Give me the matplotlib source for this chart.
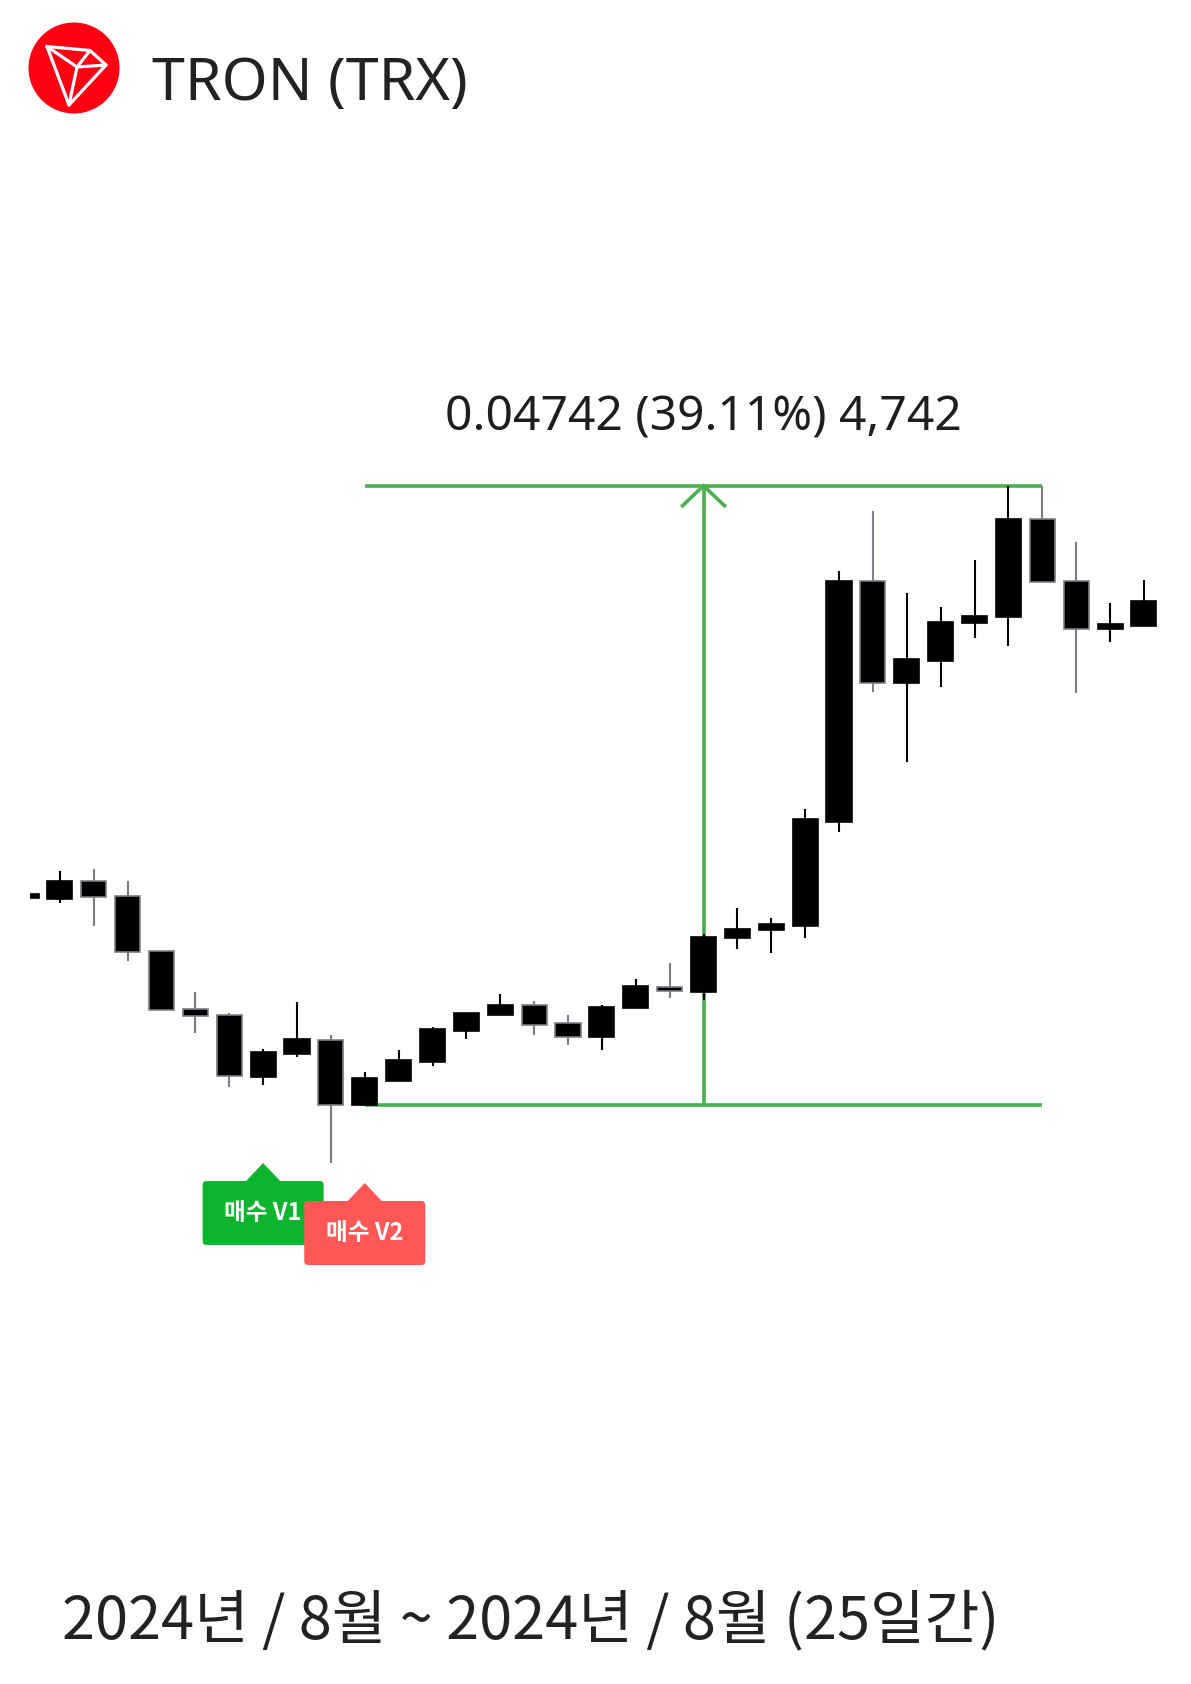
import matplotlib
matplotlib.use("Agg")
import matplotlib.pyplot as plt
import matplotlib.transforms as mtransforms
from matplotlib.patches import Circle, FancyBboxPatch, Polygon
import numpy as np

# ---- daily TRX/USDT candles ----
opens = [0.13710, 0.13702, 0.13840, 0.13725, 0.13304, 0.12860, 0.12814, 0.12339, 0.12515, 0.12623,
         0.12125, 0.12309, 0.12454, 0.12692, 0.12814, 0.12891, 0.12753, 0.12646, 0.12868, 0.13029,
         0.12990, 0.13404, 0.13465, 0.13496, 0.14292, 0.16137, 0.15356, 0.15525, 0.15816, 0.15862,
         0.16612, 0.16137, 0.15770, 0.15793]
highs = [0.13741, 0.13917, 0.13932, 0.13840, 0.13304, 0.12990, 0.12829, 0.12554, 0.12914, 0.12661,
         0.12378, 0.12546, 0.12722, 0.12829, 0.12975, 0.12921, 0.12814, 0.12891, 0.13090, 0.13212,
         0.13434, 0.13633, 0.13557, 0.14391, 0.16214, 0.16673, 0.16045, 0.15938, 0.16298, 0.16867,
         0.16867, 0.16436, 0.15969, 0.16145]
lows = [0.13710, 0.13672, 0.13496, 0.13228, 0.12852, 0.12676, 0.12263, 0.12278, 0.12492, 0.11681,
        0.12125, 0.12309, 0.12424, 0.12630, 0.12814, 0.12661, 0.12584, 0.12546, 0.12868, 0.12944,
        0.12929, 0.13320, 0.13289, 0.13404, 0.14215, 0.15287, 0.14751, 0.15326, 0.15701, 0.15640,
        0.16130, 0.15280, 0.15670, 0.15793]
closes = [0.13741, 0.13840, 0.13718, 0.13297, 0.12852, 0.12807, 0.12347, 0.12531, 0.12630, 0.12125,
          0.12332, 0.12470, 0.12707, 0.12829, 0.12891, 0.12738, 0.12646, 0.12875, 0.13036, 0.12998,
          0.13411, 0.13473, 0.13511, 0.14315, 0.16137, 0.15356, 0.15540, 0.15823, 0.15869, 0.16612,
          0.16130, 0.15770, 0.15808, 0.15984]

buy_signals = [("매수 V1", 7, "#0cb52d"), ("매수 V2", 10, "#ff5656")]
measure_from, measure_to = 10, 30

title = "TRON (TRX)"
period_label = "2024년 / 8월 ~ 2024년 / 8월 (25일간)"

W, H = 1191, 1684
fig = plt.figure(figsize=(W / 100, H / 100), dpi=100)
fig.patch.set_facecolor("white")


def px_rect(left, top, right, bottom):
    return [left / W, 1 - bottom / H, (right - left) / W, (bottom - top) / H]


# ---- price chart ----
ax = fig.add_axes(px_rect(30, 300, 1191, 1300))
ax.set_xlim(0.118, 34.39)
ax.set_ylim(0.10632, 0.18289)
ax.set_axis_off()

x = np.arange(len(opens))
o = np.array(opens)
c = np.array(closes)
up = c >= o
line_cols = np.where(up, "#000000", "#7b7e87")

ax.vlines(x, lows, highs, colors=line_cols, linewidth=1.5, zorder=2)
ax.bar(x, c - o, bottom=o, width=0.74, color="black", edgecolor=line_cols,
       linewidth=1.2, zorder=3)


def anchored(xd, yd, dx=0, dy=0):
    """Pixel-offset transform anchored at a data point."""
    return mtransforms.Affine2D().translate(dx, dy) + \
        mtransforms.ScaledTranslation(xd, yd, ax.transData)


# ---- price-range measure ----
green = "#4caf50"
lo = lows[measure_from]
hi = max(highs[measure_from:measure_to + 1])
mid = (measure_from + measure_to) / 2
ax.hlines([lo, hi], measure_from, measure_to, colors=green, linewidth=2.6, zorder=1)
ax.vlines(mid, lo, hi, colors=green, linewidth=2.6, zorder=1)
ax.plot([-21, 0, 21], [-20, 0, -20], transform=anchored(mid, hi), color=green,
        linewidth=2.6, solid_joinstyle="miter", clip_on=False, zorder=1)

diff = hi - lo
pct = diff / lo * 100
measure_text = f"{diff:.5f} ({pct:.2f}%) {round(diff * 1e5):,}"
ax.annotate(measure_text, xy=(mid, hi), xytext=(0, 55 * 0.72), textcoords="offset points",
            ha="center", va="baseline", fontsize=34.5, family="Noto Sans",
            color="#1e1e1e", annotation_clip=False)

# ---- buy signal tags ----
for k, (label, i, col) in enumerate(buy_signals):
    tr = anchored(i, lows[i], 0, -78)
    tab = Polygon([[-18, -19], [0, 0], [18, -19]], closed=True, transform=tr,
                  facecolor=col, edgecolor="none", clip_on=False, zorder=5 + 2 * k)
    box = FancyBboxPatch((-60.5, -82), 121, 64, boxstyle="round,pad=0,rounding_size=4",
                         transform=tr, facecolor=col, edgecolor="none",
                         clip_on=False, zorder=5 + 2 * k)
    ax.add_patch(tab)
    ax.add_patch(box)
    ax.text(0, -50, label, transform=tr, ha="center", va="center", color="white",
            fontsize=17, fontweight="bold", family=["Noto Sans CJK KR", "DejaVu Sans"],
            clip_on=False, zorder=6 + 2 * k)

# ---- header logo ----
deco = fig.add_axes([0, 0, 1, 1])
deco.set_xlim(0, W)
deco.set_ylim(H, 0)
deco.set_axis_off()
deco.patch.set_visible(False)
deco.add_patch(Circle((74, 68), 45.5, facecolor="#ff0013", edgecolor="none"))
A, B, C, D, E = (47, 46.5), (90, 50.5), (106, 65), (69, 105), (77, 67)
logo_lines = [[A, B, C, D, A], [A, E, D], [B, E, C]]
for seg in logo_lines:
    xs, ys = zip(*seg)
    deco.plot(xs, ys, color="white", linewidth=2.3, solid_joinstyle="round",
              solid_capstyle="round")

fig.text(152 / W, 1 - 100 / H, title, fontsize=42.5, family="Noto Sans", color="#222222",
         ha="left", va="baseline")

fig.text(62 / W, 1 - 1638 / H, period_label, fontsize=42.8,
         family=["Noto Sans CJK KR", "DejaVu Sans"], weight="medium", color="#222222",
         ha="left", va="baseline")

fig.savefig("out.png", dpi=100, facecolor="white")
